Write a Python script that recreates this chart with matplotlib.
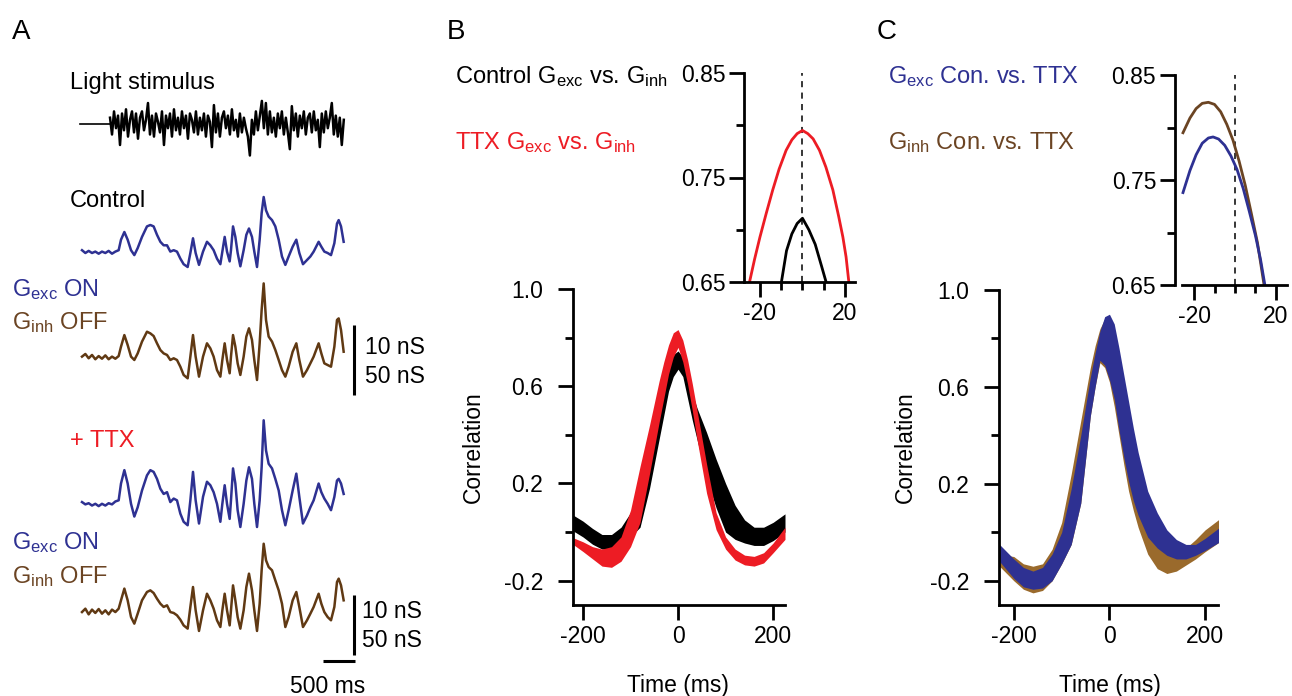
import numpy as np
import matplotlib
matplotlib.use('Agg')
import matplotlib.pyplot as plt

plt.rcParams['font.family'] = ['Liberation Sans', 'DejaVu Sans']
plt.rcParams['mathtext.fontset'] = 'custom'
plt.rcParams['mathtext.rm'] = 'Liberation Sans'
plt.rcParams['mathtext.it'] = 'Liberation Sans'
plt.rcParams['mathtext.default'] = 'regular'
plt.rcParams['axes.unicode_minus'] = False

BLUE = '#2E3192'
BROWN = '#603913'
BROWN_TXT = '#6B4423'
BROWN_BAND = '#9A6A2C'
RED = '#ED1C24'

# ---- panel A: example traces (time in ms, conductance in nS) ----
trace_t = [0, 56, 111, 167, 222, 278, 333, 389, 444, 500, 556, 611,
           650, 706, 761, 817, 872,
           928, 1000, 1083, 1139, 1194, 1250, 1306, 1361, 1417, 1472, 1528, 1583, 1639, 1694, 1761,
           1806, 1850, 1894, 1950,
           2017, 2083, 2139, 2194, 2250, 2306,
           2339, 2378, 2417, 2461,
           2483, 2517, 2556, 2594, 2639,
           2694, 2739, 2783, 2833, 2872, 2917,
           2961, 2994, 3028, 3067, 3111, 3167, 3222, 3278, 3333, 3389,
           3444, 3511, 3572, 3622, 3683,
           3750, 3806, 3861, 3944, 3989, 4039, 4094, 4150,
           4206, 4250, 4278, 4317, 4361]
ctrl_exc = [2.4, 2.0, 2.3, 2.0, 2.2, 1.9, 2.2, 2.0, 2.3, 1.9, 2.2, 2.4,
            3.9, 5.0, 3.9, 2.4, 1.7,
            2.7, 4.3, 5.8, 6.0, 5.8, 4.6, 3.6, 3.1, 3.1, 2.2, 2.4, 2.2, 1.2, 0.4, 0.0,
            2.0, 4.1, 2.0, 0.3,
            2.2, 3.6, 3.1, 2.4, 1.2, 0.4,
            2.2, 4.3, 2.2, 0.8,
            2.4, 5.8, 4.3, 2.0, 0.1,
            2.4, 4.6, 5.5, 4.3, 2.2, 0.0,
            3.9, 7.7, 10.0, 8.1, 7.2, 6.7, 5.8, 3.9, 1.5, 0.3,
            1.5, 2.9, 3.9, 2.0, 0.4,
            1.0, 1.5, 2.2, 3.6, 2.9, 2.2, 2.0, 1.7,
            3.4, 6.2, 6.7, 5.8, 3.6]
ctrl_inh = [16.7, 18.6, 15.5, 17.9, 14.8, 17.1, 15.2, 17.6, 14.8, 16.7, 15.2, 17.1,
            23.8, 32.1, 25.0, 16.7, 14.3,
            19.0, 27.4, 34.5, 33.3, 31.4, 26.2, 21.4, 19.0, 17.9, 14.3, 15.5, 14.3, 9.5, 3.6, 1.2,
            16.7, 32.1, 16.7, 2.4,
            16.7, 26.2, 22.6, 16.7, 7.1, 2.4,
            14.3, 26.2, 14.3, 4.8,
            16.7, 32.1, 23.8, 11.9, 3.6,
            16.7, 31.0, 36.9, 28.6, 14.3, 0.0,
            26.2, 50.0, 69.0, 42.9, 31.0, 27.4, 21.4, 14.3, 7.1, 2.4,
            9.5, 20.2, 26.2, 14.3, 2.4,
            7.1, 11.9, 16.7, 26.2, 19.0, 11.9, 10.7, 9.5,
            23.8, 42.9, 44.0, 35.7, 20.2]
ttx_exc = [4.3, 3.9, 4.1, 3.7, 4.0, 3.6, 4.0, 3.7, 4.1, 3.9, 4.4, 4.6,
           7.5, 9.8, 7.5, 4.0, 1.8,
           3.4, 6.3, 8.9, 9.8, 9.5, 8.3, 6.6, 5.7, 6.0, 4.3, 4.9, 4.6, 2.3, 0.9, 0.3,
           4.6, 9.5, 4.6, 0.6,
           5.2, 7.8, 7.2, 6.0, 4.0, 0.9,
           4.0, 7.2, 4.0, 1.4,
           4.6, 10.1, 7.5, 2.9, 0.0,
           4.0, 8.0, 10.3, 8.3, 4.0, 0.0,
           4.6, 10.3, 18.4, 13.2, 10.9, 10.1, 8.3, 6.3, 2.9, 0.3,
           2.9, 6.3, 9.2, 5.2, 0.6,
           2.0, 3.4, 4.6, 7.5, 6.0, 4.9, 4.0, 2.9,
           5.2, 8.0, 8.3, 7.5, 5.7]
ttx_inh = [17.2, 20.1, 15.2, 19.3, 16.4, 19.8, 15.8, 18.7, 15.2, 19.3, 17.2, 20.1,
           27.3, 37.4, 27.3, 12.9, 7.2,
           15.8, 27.3, 34.5, 35.9, 33.6, 28.7, 24.4, 21.6, 23.0, 17.2, 16.4, 14.4, 10.6, 5.7, 2.9,
           21.6, 38.8, 18.7, 0.9,
           18.7, 33.0, 27.3, 20.1, 10.1, 4.3,
           18.7, 33.0, 18.7, 5.7,
           18.7, 40.2, 27.3, 12.9, 2.9,
           18.7, 38.8, 50.3, 35.9, 18.7, 0.9,
           24.4, 53.2, 76.1, 61.8, 56.0, 53.2, 44.5, 35.9, 24.4, 4.3,
           12.9, 27.3, 34.5, 21.6, 4.3,
           10.1, 15.8, 21.6, 33.0, 24.4, 17.2, 12.9, 10.1,
           21.6, 43.1, 46.0, 40.2, 27.3]

# light stimulus contrast, sampled every 33 ms after onset at 467 ms
stim_onset = 467
stim_step = 33.3
stim = [0.3, -0.5, 0.6, -0.2, 0.4, -1.0, 0.5, -0.3, 0.7, -0.6, 0.2, 0.6, -0.4, 0.5,
        -0.7, 0.3, 0.6, -0.3, 0.2, 1.0, -0.5, 0.4, -0.6, 0.5, 0.1, -0.4, 0.6, -1.0,
        0.4, -0.2, 0.5, -0.6, 0.7, -0.3, 0.3, -0.5, 0.6, -0.2, 0.4, -0.7, 0.5, 0.2,
        -0.4, 0.6, -0.5, 0.3, -0.3, 0.5, -0.6, 0.4, 0.1, -1.1, 0.9, -0.4, 0.5, -0.6,
        0.3, 0.6, -0.2, 0.4, -0.5, 0.7, -0.3, 0.2, -0.6, 0.5, -0.4, 0.3, -0.2, -0.6,
        -1.5, 0.2, -0.5, 0.6, -0.3, 0.4, 1.1, -0.2, 1.0, -0.5, 0.6, -0.4, 0.3, -0.6,
        0.5, -0.2, 0.6, -0.5, 0.3, -0.4, -1.2, 0.85, -0.3, 0.5, -0.6, 0.4, -0.2, 0.6,
        -0.5, 0.3, 0.5, -0.4, 0.6, -0.3, 0.2, -1.1, 0.5, -0.4, 0.6, -0.2, 0.3, 1.0,
        -0.5, 0.4, -0.6, 0.3, -1.0, 0.2]

# ---- panel B: cross-correlation Gexc vs Ginh (band = mean +/- SEM) ----
lag_b = [-225, -200, -180, -160, -140, -120, -100, -80, -60, -50, -40, -30, -20, -10, 0,
         10, 20, 30, 40, 50, 60, 80, 100, 120, 140, 160, 180, 200, 225]
ctrl_hi = [0.075, 0.045, 0.015, -0.01, -0.01, 0.02, 0.08, 0.18, 0.36, 0.45, 0.54, 0.62, 0.69, 0.73, 0.745,
           0.72, 0.64, 0.57, 0.51, 0.46, 0.41, 0.30, 0.20, 0.11, 0.05, 0.02, 0.02, 0.04, 0.075]
ctrl_lo = [0.01, -0.02, -0.05, -0.07, -0.07, -0.045, -0.02, 0.02, 0.18, 0.28, 0.38, 0.48, 0.58, 0.64, 0.67,
           0.64, 0.55, 0.46, 0.38, 0.30, 0.22, 0.10, 0.0, -0.03, -0.045, -0.055, -0.055, -0.035, 0.0]
ttx_hi = [-0.02, -0.04, -0.06, -0.07, -0.06, -0.02, 0.09, 0.27, 0.44, 0.53, 0.62, 0.70, 0.77, 0.82, 0.833,
          0.79, 0.71, 0.61, 0.50, 0.39, 0.28, 0.08, -0.02, -0.07, -0.095, -0.10, -0.085, -0.045, 0.02]
ttx_lo = [-0.045, -0.08, -0.11, -0.14, -0.145, -0.12, -0.06, 0.04, 0.24, 0.345, 0.45, 0.55, 0.65, 0.72, 0.76,
          0.70, 0.61, 0.50, 0.38, 0.27, 0.16, 0.01, -0.07, -0.115, -0.135, -0.14, -0.127, -0.085, -0.03]

# inset B: mean correlation near zero lag
ib_red_lag = [-24.9, -22.5, -20, -17, -14, -11, -7.7, -5, -2.5, 0, 2.5, 5, 8, 11, 14.3, 17, 19, 20.5, 21.8]
ib_red = [0.65, 0.672, 0.693, 0.716, 0.738, 0.758, 0.776, 0.786, 0.792, 0.795, 0.792, 0.787,
          0.776, 0.760, 0.738, 0.713, 0.693, 0.674, 0.65]
ib_blk_lag = [-9.9, -7.5, -5, -2.5, 0, 3, 6, 9, 11.1]
ib_blk = [0.65, 0.68, 0.696, 0.706, 0.711, 0.70, 0.686, 0.665, 0.65]

# ---- panel C: control vs TTX correlation ----
lag_c = [-230, -200, -180, -160, -140, -120, -100, -80, -60, -50, -40, -30, -20, -10, 0,
         10, 20, 30, 40, 50, 60, 80, 100, 120, 140, 160, 180, 200, 230]
exc_hi = [-0.05, -0.11, -0.145, -0.16, -0.145, -0.09, 0.0, 0.18, 0.40, 0.52, 0.64, 0.74, 0.83, 0.89, 0.90,
          0.86, 0.76, 0.65, 0.54, 0.43, 0.33, 0.17, 0.08, 0.01, -0.03, -0.05, -0.05, -0.025, 0.02]
exc_lo = [-0.12, -0.19, -0.225, -0.235, -0.23, -0.20, -0.13, -0.05, 0.12, 0.30, 0.48, 0.60, 0.71, 0.69, 0.63,
          0.55, 0.42, 0.31, 0.21, 0.13, 0.07, -0.02, -0.065, -0.095, -0.11, -0.11, -0.095, -0.075, -0.04]
inh_hi = [-0.09, -0.10, -0.13, -0.14, -0.13, -0.07, 0.04, 0.24, 0.46, 0.57, 0.68, 0.77, 0.84, 0.88, 0.89,
          0.84, 0.73, 0.61, 0.50, 0.39, 0.29, 0.12, 0.0, -0.06, -0.08, -0.065, -0.03, 0.01, 0.055]
inh_lo = [-0.14, -0.20, -0.235, -0.25, -0.24, -0.20, -0.13, -0.05, 0.12, 0.30, 0.48, 0.60, 0.70, 0.68, 0.62,
          0.52, 0.40, 0.28, 0.17, 0.09, 0.02, -0.09, -0.15, -0.17, -0.16, -0.135, -0.11, -0.08, -0.04]

ic_inh_lag = [-25.4, -22, -19, -16, -13, -10, -7, -4, -1, 2, 5, 8, 11, 14.2]
ic_inh = [0.795, 0.809, 0.818, 0.823, 0.824, 0.822, 0.815, 0.803, 0.788, 0.768, 0.745, 0.718, 0.690, 0.65]
ic_exc_lag = [-25.4, -22, -19, -16, -13, -10.7, -8, -5, -2, 1, 4, 7, 10, 12.5, 14.6]
ic_exc = [0.738, 0.759, 0.774, 0.785, 0.790, 0.791, 0.789, 0.783, 0.773, 0.760, 0.742, 0.720, 0.697, 0.674, 0.65]

W, H = 1292, 696
fig = plt.figure(figsize=(W / 100, H / 100), dpi=100)


def px_rect(x0, y0, x1, y1):
    return [x0 / W, 1 - y1 / H, (x1 - x0) / W, (y1 - y0) / H]


def ftext(x, y, s, **kw):
    kw.setdefault('va', 'baseline')
    kw.setdefault('ha', 'left')
    kw.setdefault('fontsize', 17)
    fig.text(x / W, 1 - y / H, s, **kw)


def style(ax, ypad):
    ax.set_facecolor('none')
    for s in ['top', 'right']:
        ax.spines[s].set_visible(False)
    for s in ['left', 'bottom']:
        ax.spines[s].set_linewidth(2)
    ax.tick_params(which='major', length=10.5, width=2, labelsize=16.5, direction='out')
    ax.tick_params(which='minor', length=5.5, width=2, direction='out')
    ax.tick_params(axis='y', which='major', pad=ypad)
    ax.tick_params(axis='x', which='major', pad=4)


# ---- panel A ----
ms_per_px = 500 / 30
ax_a = fig.add_axes(px_rect(0, 0, 440, 696))
ax_a.set_xlim(-82 * ms_per_px, (440 - 82) * ms_per_px)
ax_a.set_ylim(696, 0)
ax_a.axis('off')

t = np.array(trace_t)
ax_a.plot(t, 267 - np.array(ctrl_exc) * 7.0, color=BLUE, lw=1.8)
ax_a.plot(t, 380 - np.array(ctrl_inh) * 1.4, color=BROWN, lw=1.8)
ax_a.plot(t, 527 - np.array(ttx_exc) * 5.8, color=BLUE, lw=1.8)
ax_a.plot(t, 632 - np.array(ttx_inh) * 1.16, color=BROWN, lw=1.8)

st = stim_onset + stim_step * np.arange(len(stim))
ax_a.plot([-33, stim_onset], [124, 124], color='k', lw=1.2)
ax_a.plot(st, 124 - np.array(stim) * 21, color='k', lw=1.8)

# scale bars
xb = (354 - 82) * ms_per_px
ax_a.plot([xb, xb], [325, 395], color='k', lw=2.2, solid_capstyle='butt')
ax_a.plot([xb, xb], [595, 655], color='k', lw=2.2, solid_capstyle='butt')
ax_a.plot([(323 - 82) * ms_per_px, (355 - 82) * ms_per_px], [661, 661], color='k', lw=2.2,
          solid_capstyle='butt')

ftext(12, 39, 'A', fontsize=20)
ftext(70, 89, 'Light stimulus')
ftext(70, 207, 'Control')
ftext(12, 296, 'G$_{exc}$ ON', color=BLUE)
ftext(12, 329, 'G$_{inh}$ OFF', color=BROWN_TXT)
ftext(365, 354, '10 nS', fontsize=16.5)
ftext(365, 383, '50 nS', fontsize=16.5)
ftext(70, 447, '+ TTX', color=RED)
ftext(12, 549, 'G$_{exc}$ ON', color=BLUE)
ftext(12, 583, 'G$_{inh}$ OFF', color=BROWN_TXT)
ftext(362, 618, '10 nS', fontsize=16.5)
ftext(362, 647, '50 nS', fontsize=16.5)
ftext(328, 693, '500 ms', ha='center', fontsize=16.5)

# ---- panel B ----
ax_b = fig.add_axes(px_rect(573, 289, 785, 605))
style(ax_b, 11)
ax_b.fill_between(lag_b, ctrl_lo, ctrl_hi, color='k', lw=0)
ax_b.fill_between(lag_b, ttx_lo, ttx_hi, color=RED, lw=0)
ax_b.set_xlim(-221, 225)
ax_b.set_ylim(-0.3, 1.0)
ax_b.set_xticks([-200, 0, 200])
ax_b.set_yticks([-0.2, 0.2, 0.6, 1.0])
ax_b.set_yticklabels(['-0.2', '0.2', '0.6', '1.0'])
ax_b.set_yticks([0.0, 0.4, 0.8], minor=True)
ax_b.set_ylabel('Correlation', fontsize=16.5, va='bottom')
ax_b.yaxis.set_label_coords((485 - 573) / 212, 0.5)
ax_b.set_xlabel('Time (ms)', fontsize=16.5, va='top')
ax_b.xaxis.set_label_coords(0.495, -(674 - 605) / 316)

ax_bi = fig.add_axes(px_rect(744, 73, 855, 282))
style(ax_bi, 3)
ax_bi.axvline(0, color='k', lw=1.1, ls=(0, (4, 3.5)))
ax_bi.plot(ib_red_lag, ib_red, color=RED, lw=2)
ax_bi.plot(ib_blk_lag, ib_blk, color='k', lw=2)
ax_bi.set_xlim(-27.5, 24.7)
ax_bi.set_ylim(0.65, 0.85)
ax_bi.set_xticks([-20, 20])
ax_bi.set_xticks([-10, 0, 10], minor=True)
ax_bi.set_yticks([0.65, 0.75, 0.85])
ax_bi.set_yticks([0.70, 0.80], minor=True)

ftext(447, 39, 'B', fontsize=20)
ftext(455, 83, 'Control G$_{exc}$ vs. G$_{inh}$')
ftext(455, 149, 'TTX G$_{exc}$ vs. G$_{inh}$', color=RED)

# ---- panel C ----
ax_c = fig.add_axes(px_rect(999, 290, 1218, 605))
style(ax_c, 11)
ax_c.fill_between(lag_c, inh_lo, inh_hi, color=BROWN_BAND, lw=0)
ax_c.fill_between(lag_c, exc_lo, exc_hi, color=BLUE, lw=0)
ax_c.set_xlim(-231, 227)
ax_c.set_ylim(-0.3, 1.0)
ax_c.set_xticks([-200, 0, 200])
ax_c.set_yticks([-0.2, 0.2, 0.6, 1.0])
ax_c.set_yticklabels(['-0.2', '0.2', '0.6', '1.0'])
ax_c.set_yticks([0.0, 0.4, 0.8], minor=True)
ax_c.set_ylabel('Correlation', fontsize=16.5, va='bottom')
ax_c.yaxis.set_label_coords((917 - 999) / 219, 0.5)
ax_c.set_xlabel('Time (ms)', fontsize=16.5, va='top')
ax_c.xaxis.set_label_coords((1110 - 999) / 219, -(674 - 605) / 315)

ax_ci = fig.add_axes(px_rect(1175, 75, 1287, 285))
style(ax_ci, 3)
ax_ci.axvline(0, color='k', lw=1.1, ls=(0, (4, 3.5)))
ax_ci.plot(ic_inh_lag, ic_inh, color=BROWN_TXT, lw=2)
ax_ci.plot(ic_exc_lag, ic_exc, color=BLUE, lw=2)
ax_ci.set_xlim(-29.3, 25.4)
ax_ci.set_ylim(0.65, 0.85)
ax_ci.spines['bottom'].set_bounds(-25.9, 25.4)
ax_ci.set_xticks([-20, 20])
ax_ci.set_xticks([-10, 0, 10], minor=True)
ax_ci.set_yticks([0.65, 0.75, 0.85])
ax_ci.set_yticks([0.70, 0.80], minor=True)

ftext(877, 39, 'C', fontsize=20)
ftext(888, 83, 'G$_{exc}$ Con. vs. TTX', color=BLUE)
ftext(888, 149, 'G$_{inh}$ Con. vs. TTX', color=BROWN_TXT)

fig.savefig('out.png', dpi=100)
